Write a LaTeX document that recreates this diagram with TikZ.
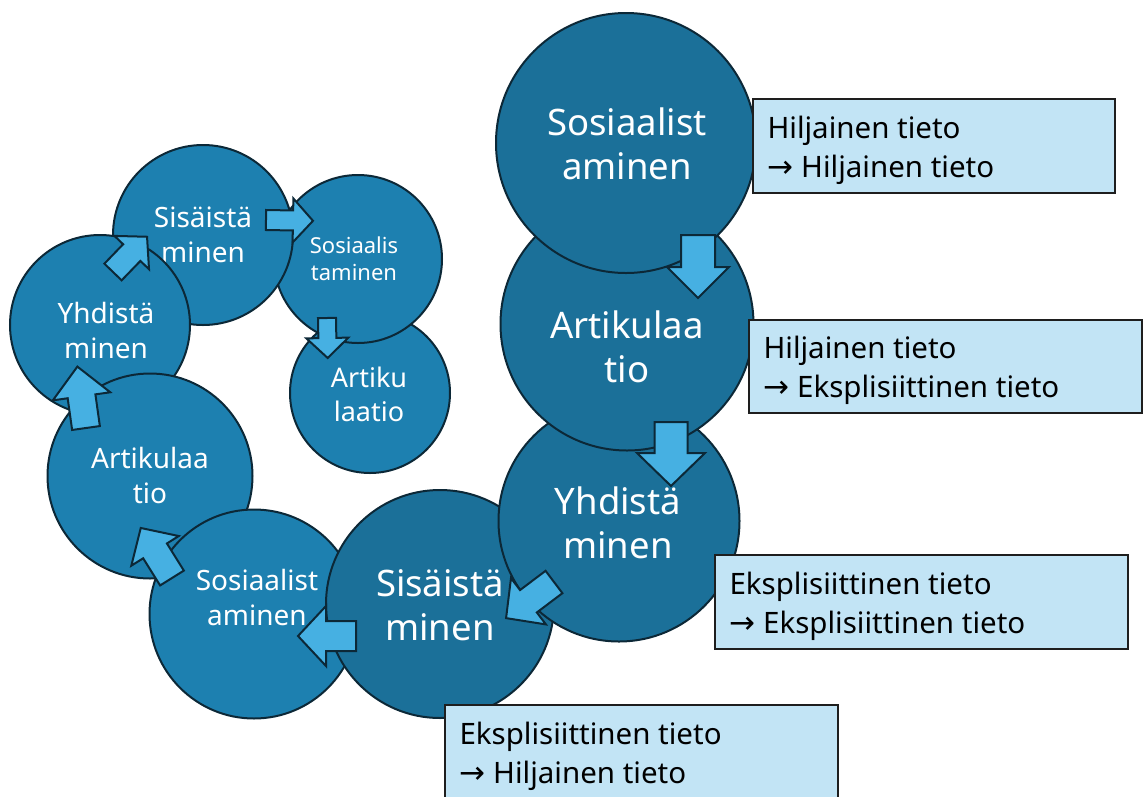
\documentclass[tikz,border=0pt]{standalone}
\usepackage{fontspec}
\setmainfont{Noto Sans}
\newfontfamily\symfont{DejaVu Sans}
\definecolor{bigfill}{RGB}{27,112,153}
\definecolor{smallfill}{RGB}{29,128,176}
\definecolor{cline}{RGB}{12,40,55}
\definecolor{arrfill}{RGB}{70,176,226}
\definecolor{boxfill}{RGB}{194,228,245}
\definecolor{boxline}{RGB}{30,30,30}
\newcommand{\blockarr}[7]{%
  \draw[arr, shift={(#1,#2)}, rotate=#3] (0,-#5) -- ({#4-#7},-#5) -- ({#4-#7},-#6) -- (#4,0) -- ({#4-#7},#6) -- ({#4-#7},#5) -- (0,#5) -- cycle;}
\newcommand{\rarr}{{\symfont\fontsize{31}{39}\selectfont →}}
\begin{document}
\begin{tikzpicture}[x=1pt,y=-1pt,
  circ/.style={circle, draw=cline, line width=2pt, inner sep=0pt, minimum size=#1},
  bigc/.style={circ=#1, fill=bigfill},
  smallc/.style={circ=#1, fill=smallfill},
  bigt/.style={text=white, align=center, font=\fontsize{36.5}{44}\selectfont},
  smallt/.style={text=white, align=center, font=\fontsize{28}{35}\selectfont},
  tinyt/.style={text=white, align=center, font=\fontsize{22}{27}\selectfont},
  arr/.style={fill=arrfill, draw=cline, line width=2pt, line join=miter},
  infobox/.style={rectangle, draw=boxline, line width=1.3pt, fill=boxfill},
  boxtext/.style={anchor=west, inner xsep=15pt, inner ysep=0pt, align=left, text=black, font=\fontsize{29.5}{39}\selectfont, yshift=-4pt}
]
\useasboundingbox (0,0) rectangle (1144,796);
% small chain, drawn bottom first
\node[smallc=160] (c10) at (370,393) {};
\node[smallt, font=\fontsize{27}{34}\selectfont] (t10) at (369,394) {Artiku\\laatio};
\node[smallc=168] (c9) at (358,259) {};
\node[tinyt] (t9) at (354,259) {Sosiaalis\\taminen};
\node[smallc=180] (c8) at (203,235) {};
\node[smallt] (t8) at (203,235) {Sisäistä\\minen};
\node[smallc=180] (c7) at (100,325) {};
\node[smallt] (t7) at (106,330) {Yhdistä\\minen};
\node[smallc=205] (c6) at (150,476) {};
\node[smallt] (t6) at (150,475) {Artikulaa\\tio};
\node[smallc=209] (c5) at (254,614) {};
\node[smallt] (t5) at (257,597) {Sosiaalist\\aminen};
% big chain
\node[bigc=228] (c4) at (440,604) {};
\node[bigt] (t4) at (440,605) {Sisäistä\\minen};
\node[bigc=241] (c3) at (619,521) {};
\node[bigt] (t3) at (618,523) {Yhdistä\\minen};
\node[bigc=253] (c2) at (627,324) {};
\node[bigt] (t2) at (627,347) {Artikulaa\\tio};
\node[bigc=260] (c1) at (626,143) {};
\node[bigt] (t1) at (627,144) {Sosiaalist\\aminen};
% block arrows: tail x, tail y, angle, length, shaft half width, head half width, head length
\blockarr{698}{235}{-90}{63}{17}{31}{31}
\blockarr{671}{422}{-90}{64}{16.5}{34}{33}
\blockarr{554}{582}{217}{60}{14}{29}{28}
\blockarr{356}{636}{180}{58}{15}{30}{28}
\blockarr{172}{578}{122}{59}{14}{28}{27}
\blockarr{86}{428}{98}{62}{14}{29}{30}
\blockarr{113}{272}{46}{49}{12}{24}{22}
\blockarr{266}{220}{-1}{47}{10}{22}{20}
\blockarr{327}{318}{-89}{40}{9}{21}{20}
% info boxes
\node[infobox, minimum width=362, minimum height=94] (b1) at (934,146) {};
\node[boxtext] (bt1) at (b1.west) {Hiljainen tieto\\\rarr\ Hiljainen tieto};
\node[infobox, minimum width=393, minimum height=93] (b2) at (945.5,366.5) {};
\node[boxtext] (bt2) at (b2.west) {Hiljainen tieto\\\rarr\ Eksplisiittinen tieto};
\node[infobox, minimum width=413, minimum height=94] (b3) at (921.5,602) {};
\node[boxtext] (bt3) at (b3.west) {Eksplisiittinen tieto\\\rarr\ Eksplisiittinen tieto};
\node[infobox, minimum width=393, minimum height=95] (b4) at (641.5,752.5) {};
\node[boxtext] (bt4) at (b4.west) {Eksplisiittinen tieto\\\rarr\ Hiljainen tieto};
\end{tikzpicture}
\end{document}
